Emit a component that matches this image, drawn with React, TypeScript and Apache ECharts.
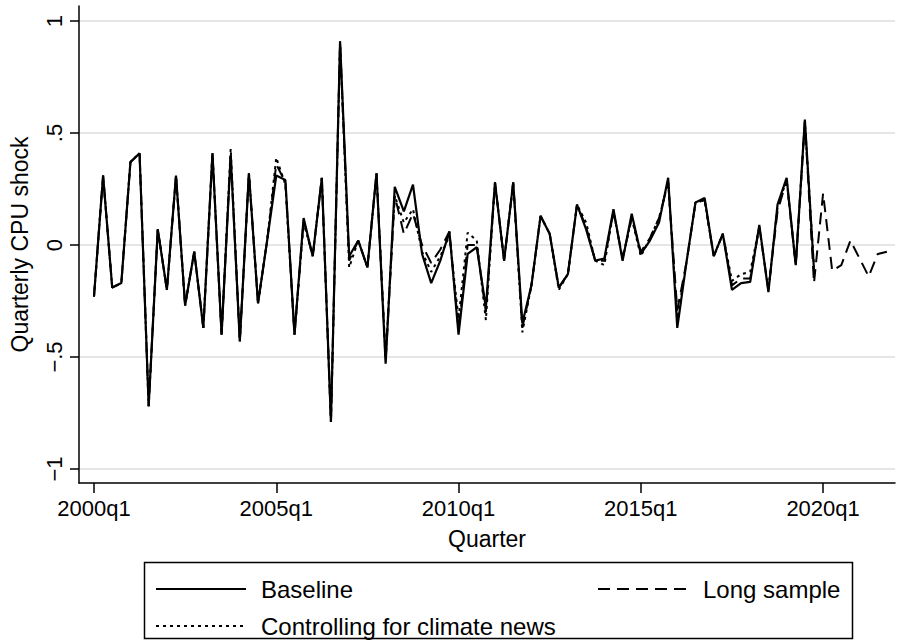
import React, { useEffect, useRef } from "react";
import * as echarts from "echarts";

// quarter index 0 = 2000q1
const baseline: number[] = [
  -0.23, 0.31, -0.19, -0.17, 0.37, 0.41, -0.72, 0.07, -0.2, 0.31,
  -0.27, -0.03, -0.37, 0.41, -0.4, 0.4, -0.43, 0.32, -0.26, 0.02,
  0.31, 0.29, -0.4, 0.12, -0.05, 0.3, -0.79, 0.91, -0.05, 0.02,
  -0.1, 0.32, -0.53, 0.26, 0.15, 0.27, -0.04, -0.17, -0.07, 0.06,
  -0.4, -0.04, -0.01, -0.28, 0.28, -0.07, 0.28, -0.35, -0.18, 0.13,
  0.05, -0.19, -0.13, 0.18, 0.07, -0.07, -0.06, 0.16, -0.07, 0.14,
  -0.04, 0.02, 0.1, 0.3, -0.37, -0.08, 0.19, 0.21, -0.05, 0.05,
  -0.2, -0.17, -0.165, 0.09, -0.21, 0.18, 0.3, -0.09, 0.56, -0.11,
];

const longSample: number[] = [
  -0.23, 0.31, -0.19, -0.17, 0.37, 0.41, -0.72, 0.07, -0.2, 0.31,
  -0.27, -0.03, -0.37, 0.41, -0.4, 0.41, -0.43, 0.32, -0.26, 0.02,
  0.36, 0.28, -0.4, 0.11, -0.05, 0.3, -0.79, 0.9, -0.07, 0.02,
  -0.1, 0.32, -0.52, 0.22, 0.05, 0.14, 0.0, -0.08, -0.02, 0.06,
  -0.38, 0.0, 0.0, -0.3, 0.28, -0.07, 0.28, -0.37, -0.18, 0.13,
  0.05, -0.19, -0.13, 0.18, 0.08, -0.07, -0.07, 0.15, -0.06, 0.12,
  -0.03, 0.03, 0.12, 0.28, -0.29, -0.08, 0.19, 0.2, -0.05, 0.05,
  -0.18, -0.15, -0.15, 0.08, -0.2, 0.15, 0.29, -0.09, 0.55, -0.17,
  0.23, -0.115, -0.09, 0.02, -0.06, -0.14, -0.04, -0.03,
];

const climateControl: number[] = [
  -0.23, 0.31, -0.19, -0.17, 0.37, 0.41, -0.72, 0.07, -0.2, 0.31,
  -0.27, -0.03, -0.37, 0.41, -0.4, 0.43, -0.43, 0.32, -0.26, 0.02,
  0.39, 0.27, -0.4, 0.1, -0.05, 0.3, -0.79, 0.9, -0.1, 0.02,
  -0.1, 0.32, -0.5, 0.22, 0.1, 0.16, -0.03, -0.12, -0.05, 0.04,
  -0.33, 0.055, 0.02, -0.335, 0.28, -0.07, 0.28, -0.39, -0.18, 0.13,
  0.05, -0.2, -0.13, 0.18, 0.1, -0.07, -0.09, 0.15, -0.06, 0.12,
  -0.05, 0.03, 0.12, 0.28, -0.33, -0.08, 0.19, 0.2, -0.05, 0.05,
  -0.16, -0.13, -0.12, 0.08, -0.2, 0.17, 0.29, -0.09, 0.55, -0.1,
];

const xTickValues: number[] = [0, 20, 40, 60, 80];
const xTickLabels: string[] = ["2000q1", "2005q1", "2010q1", "2015q1", "2020q1"];
const yTickValues: number[] = [-1, -0.5, 0, 0.5, 1];
const yTickLabels: string[] = ["\u22121", "\u2212.5", "0", ".5", "1"];

const seriesNames = ["Baseline", "Long sample", "Controlling for climate news"];

const FONT = '"Liberation Sans", Arial, sans-serif';

const toPairs = (arr: number[]) => arr.map((v, i) => [i, v]);

export default function App() {
  const ref = useRef<HTMLDivElement>(null);
  useEffect(() => {
    if (!ref.current) return;
    const chart = echarts.init(ref.current, undefined, { renderer: "svg" });
    const labelFor = (vals: number[], labels: string[]) => (v: number) => {
      const k = vals.findIndex((t) => Math.abs(t - v) < 1e-6);
      return k >= 0 ? labels[k] : "";
    };
    const tickText = { fontFamily: FONT, fontSize: 22, color: "#000" };
    const titleText = { fontFamily: FONT, fontSize: 23, color: "#000" };
    const legendCommon = {
      orient: "horizontal" as const,
      itemWidth: 90,
      itemHeight: 14,
      itemGap: 0,
      itemStyle: { color: "rgba(0,0,0,0)", borderWidth: 0, opacity: 0 },
      textStyle: { fontFamily: FONT, fontSize: 24, color: "#000", padding: [0, 0, 0, 10] },
      selectedMode: false,
    };
    chart.setOption({
      animation: false,
      backgroundColor: "#fff",
      grid: { left: 78, right: 8, top: 6, bottom: 158, containLabel: false },
      xAxis: {
        type: "value",
        min: -1.644,
        max: 87.89,
        name: "Quarter",
        nameLocation: "middle",
        nameGap: 44,
        nameTextStyle: titleText,
        axisLine: { show: true, onZero: false, lineStyle: { color: "#000", width: 1.5 } },
        axisTick: { show: true, length: 10, customValues: xTickValues, lineStyle: { color: "#000", width: 1.5 } },
        axisLabel: {
          customValues: xTickValues,
          formatter: labelFor(xTickValues, xTickLabels),
          margin: 14,
          ...tickText,
        },
        splitLine: { show: false },
      },
      yAxis: {
        type: "value",
        min: -1.0625,
        max: 1.067,
        name: "Quarterly CPU shock",
        nameLocation: "middle",
        nameGap: 48,
        nameRotate: 90,
        nameTextStyle: titleText,
        axisLine: { show: true, onZero: false, lineStyle: { color: "#000", width: 1.5 } },
        axisTick: { show: true, length: 9, customValues: yTickValues, lineStyle: { color: "#000", width: 1.5 } },
        axisLabel: {
          customValues: yTickValues,
          formatter: labelFor(yTickValues, yTickLabels),
          rotate: 90,
          margin: 14,
          ...tickText,
        },
        splitLine: { show: true, lineStyle: { color: "#e6e6e6", width: 2 } },
      },
      legend: [
        { ...legendCommon, left: 150, top: 572, data: [seriesNames[0]] },
        { ...legendCommon, left: 592, top: 572, data: [seriesNames[1]] },
        { ...legendCommon, left: 150, top: 609, data: [seriesNames[2]] },
      ],
      graphic: [
        {
          type: "rect",
          left: 142,
          top: 560,
          shape: { width: 708, height: 76 },
          style: { fill: "none", stroke: "#000", lineWidth: 1.5 },
          silent: true,
        },
      ],
      series: [
        {
          name: seriesNames[0],
          type: "line",
          data: toPairs(baseline),
          showSymbol: false,
          symbol: "none",
          lineStyle: { color: "#000", width: 2.2, type: "solid" },
          itemStyle: { color: "#000" },
          z: 4,
        },
        {
          name: seriesNames[1],
          type: "line",
          data: toPairs(longSample),
          showSymbol: false,
          symbol: "none",
          lineStyle: { color: "#000", width: 2, type: [12, 7] },
          itemStyle: { color: "#000" },
          z: 3,
        },
        {
          name: seriesNames[2],
          type: "line",
          data: toPairs(climateControl),
          showSymbol: false,
          symbol: "none",
          lineStyle: { color: "#000", width: 2, type: [3, 4] },
          itemStyle: { color: "#000" },
          z: 3,
        },
      ],
    });
    return () => chart.dispose();
  }, []);
  return (
    <div
      ref={ref}
      style={{ position: "fixed", left: 0, top: 0, width: 903, height: 641, background: "#fff" }}
    />
  );
}
